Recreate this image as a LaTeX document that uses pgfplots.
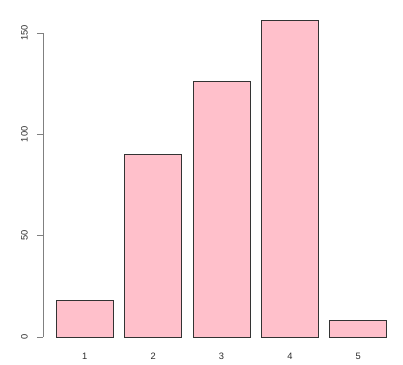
\documentclass[border=0pt]{standalone}
\usepackage{fontspec}
\setmainfont{Liberation Sans}
\usepackage{pgfplots}
\pgfplotsset{compat=1.18}
\definecolor{rpink}{HTML}{FFC0CB}
\definecolor{axgray}{HTML}{808080}
\definecolor{txtgray}{HTML}{2A2A2A}
\begin{document}
\begin{tikzpicture}[x=1pt,y=1pt]
\path[use as bounding box] (0,0) rectangle (403,364);
\begin{axis}[
  at={(43pt,14.4pt)}, anchor=south west,
  scale only axis, width=357pt, height=341.4pt,
  xmin=-0.032, xmax=6.232, ymin=-6.24, ymax=162.24,
  axis line style={draw=none},
  ytick={0,50,100,150}, ytick pos=left,
  xtick={0.7,1.9,3.1,4.3,5.5}, xticklabels={1,2,3,4,5},
  xtick style={draw=none},
  ytick style={axgray, line width=0.7pt},
  tick align=outside, major tick length=6pt,
  /pgf/number format/assume math mode=true,
  ticklabel style={font=\fontsize{9.3}{10}\selectfont, text=txtgray},
  yticklabel style={rotate=90, anchor=south, inner sep=0pt, xshift=0pt, yshift=9pt},
  xticklabel style={anchor=north, inner sep=0pt, yshift=2.5pt},
  clip=false,
]
\draw[axgray, line width=0.7pt] (axis cs:-0.032,0) -- (axis cs:-0.032,150);
\addplot[ybar, bar width=1, fill=rpink, draw=black!80, line width=0.7pt]
  coordinates {(0.7,18) (1.9,90) (3.1,126) (4.3,156) (5.5,8)};
\end{axis}
\end{tikzpicture}
\end{document}
